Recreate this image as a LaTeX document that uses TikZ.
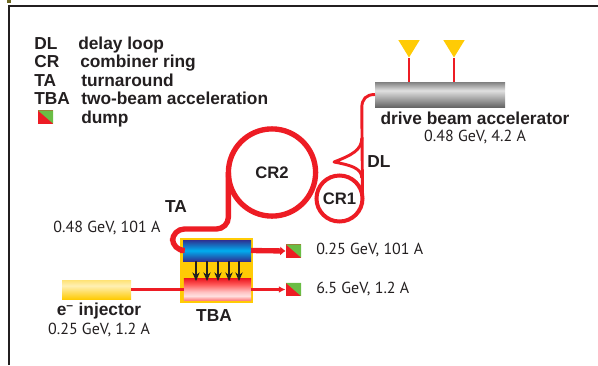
\documentclass[tikz,border=0pt]{standalone}
\usepackage{fontspec}
\setmainfont{PT Sans}
\newfontfamily\lblfont{Liberation Sans}[BoldFont={Liberation Sans Bold}]
\definecolor{beam}{HTML}{ED1C24}
\definecolor{gold}{HTML}{FFCB05}
\definecolor{dumpgreen}{HTML}{6ABD45}
\definecolor{inkdark}{HTML}{231F20}
\definecolor{navy}{HTML}{2E3192}
\definecolor{sky}{HTML}{00AEEF}
\usetikzlibrary{arrows.meta,positioning,shapes.geometric}
\pgfdeclareverticalshading{bluebar}{100bp}{color(0bp)=(navy); color(25bp)=(navy);
  color(50bp)=(sky); color(75bp)=(navy); color(100bp)=(navy)}
\pgfdeclareverticalshading{redbar}{100bp}{color(0bp)=(red!50!white); color(25bp)=(red!50!white);
  color(35bp)=(red!12!white); color(45bp)=(red!25!white); color(62bp)=(red!65!white); color(75bp)=(beam); color(100bp)=(beam)}
\pgfdeclareverticalshading{greybar}{100bp}{color(0bp)=(black!60); color(25bp)=(black!60);
  color(58bp)=(black!12); color(75bp)=(black!50); color(100bp)=(black!50)}
\pgfdeclareverticalshading{goldbar}{100bp}{color(0bp)=(gold); color(25bp)=(gold);
  color(60bp)=(gold!30!white); color(75bp)=(gold!55!white); color(100bp)=(gold!55!white)}
\tikzset{
  bar/.style     = {inner sep=0pt,outer sep=0pt,minimum width=#1},
  dump/.style    = {inner sep=0pt,minimum width=11.5pt,minimum height=10pt,fill=beam,
                    path picture={\fill[dumpgreen] (path picture bounding box.north west)
                    -- (path picture bounding box.north east)
                    -- (path picture bounding box.south east) -- cycle;}},
  klystron/.style= {isosceles triangle,isosceles triangle apex angle=63,shape border rotate=270,
                    fill=gold,inner sep=0pt,minimum height=13pt},
  ring/.style    = {circle,draw=beam,inner sep=0pt,outer sep=0pt,text=inkdark,
                    font=\lblfont\bfseries\fontsize{12.5}{14}\selectfont},
  lbl/.style     = {font=\lblfont\bfseries\fontsize{13}{15}\selectfont,text=inkdark,inner sep=0pt},
  val/.style     = {font=\fontsize{12}{14}\selectfont,text=inkdark,inner sep=0pt},
  beamthin/.style= {draw=beam,line width=2.2pt,line join=round},
  beamthick/.style={draw=beam,line width=4pt},
  power/.style   = {-{Stealth[length=6.5pt,width=5.5pt]},line width=0.8pt,draw=inkdark},
}
\begin{document}
\begin{tikzpicture}[x=0.75pt,y=-0.75pt]
  \useasboundingbox (0,0) rectangle (598,365);
  % Frame
  \draw[line width=1.6pt,inkdark] (9,365) |- (598,6);
  \fill[olive!70!black] (7,0) rectangle (11,3);

  % Legend
  \foreach \y/\k/\t/\x in {49/DL/delay loop/78, 67/CR/combiner ring/80,
                           86/TA/turnaround/81, 104/TBA/two-beam acceleration/81}{
    \node[lbl,anchor=base west] at (34,\y) {\k};
    \node[lbl,anchor=base west] at (\x,\y) {\t};
  }
  \node[dump] (legdump) at (45.5,117) {};
  \node[lbl,anchor=base west] at (81,123) {dump};

  % Drive beam accelerator
  \node[bar=97.5pt,minimum height=18.75pt,shading=greybar] (accel) at (440,94.5) {};
  \node[lbl] (accellbl) at (475,118) {drive beam accelerator};
  \node[val] at (475,137) {0.48 GeV, 4.2 A};
  \foreach \n/\x in {klya/409,klyb/454}{
    \node[klystron,anchor=apex] (\n) at (\x,58) {};
    \draw[beamthin] (\n.apex) -- (\n.apex |- accel.north);
  }

  % Rings
  \node[ring,line width=4pt,minimum size=65.4pt] (cr2) at (272,172.5) {CR2};
  \node[ring,line width=3pt,minimum size=34.5pt] (cr1) at (339.5,198.5) {CR1};

  % Delay loop
  \coordinate (dltop) at (361.8,138);
  \coordinate (dlend) at (361.8,178);
  \coordinate (dltip) at (334,162);
  \draw[beamthin] (accel.west) .. controls (366,94.5) and (361.8,99) .. (361.8,108)
      -- (cr1.east);
  \draw[beamthin] (dltop) .. controls (361.8,150) and (352,155) .. (dltip)
      .. controls (350,165) and (361.8,168) .. (dlend);
  \node[lbl] at (379,162) {DL};

  % Two-beam acceleration
  \node[bar=55pt,minimum height=48.75pt,fill=gold] (tba) at (216.5,270.5) {};
  \node[bar=51pt,minimum height=15.75pt,shading=bluebar] (drive) at (217,250.5) {};
  \node[bar=50.5pt,minimum height=16pt,shading=redbar] (main) at (217.5,289.5) {};
  \foreach \x in {196,207,218,229,239}
    \draw[power] (\x,261) -- (\x,281);
  \node[lbl] at (214,316) {TBA};

  % Turnaround
  \draw[beamthick,rounded corners=9pt] (cr2.west) -- (cr2.west |- 0,229) -- (172.5,229)
      -- (172.5,250.5) -- (tba.west |- drive.west);
  \node[lbl] at (176,207) {TA};
  \node[val] at (107,228) {0.48 GeV, 101 A};

  % Injector and dumps
  \node[bar=51.75pt,minimum height=14.25pt,shading=goldbar] (inj) at (96.5,289.5) {};
  \node[lbl] at (99,311) {e\textsuperscript{–} injector};
  \node[val] at (99,330) {0.25 GeV, 1.2 A};
  \node[dump] (dumpa) at (293.5,251) {};
  \node[dump] (dumpb) at (293.5,289.5) {};
  \draw[beamthin] (inj.east) -- (main.west);
  \draw[beamthin,-{Latex[length=5pt,width=5pt]}] (main.east) -- (dumpb.west);
  \draw[beamthick,-{Latex[length=4pt,width=7pt]}] (drive.east) -- (dumpa.west);
  \node[val,anchor=west] at (316,250) {0.25 GeV, 101 A};
  \node[val,anchor=west] at (316,289) {6.5 GeV, 1.2 A};
\end{tikzpicture}
\end{document}
